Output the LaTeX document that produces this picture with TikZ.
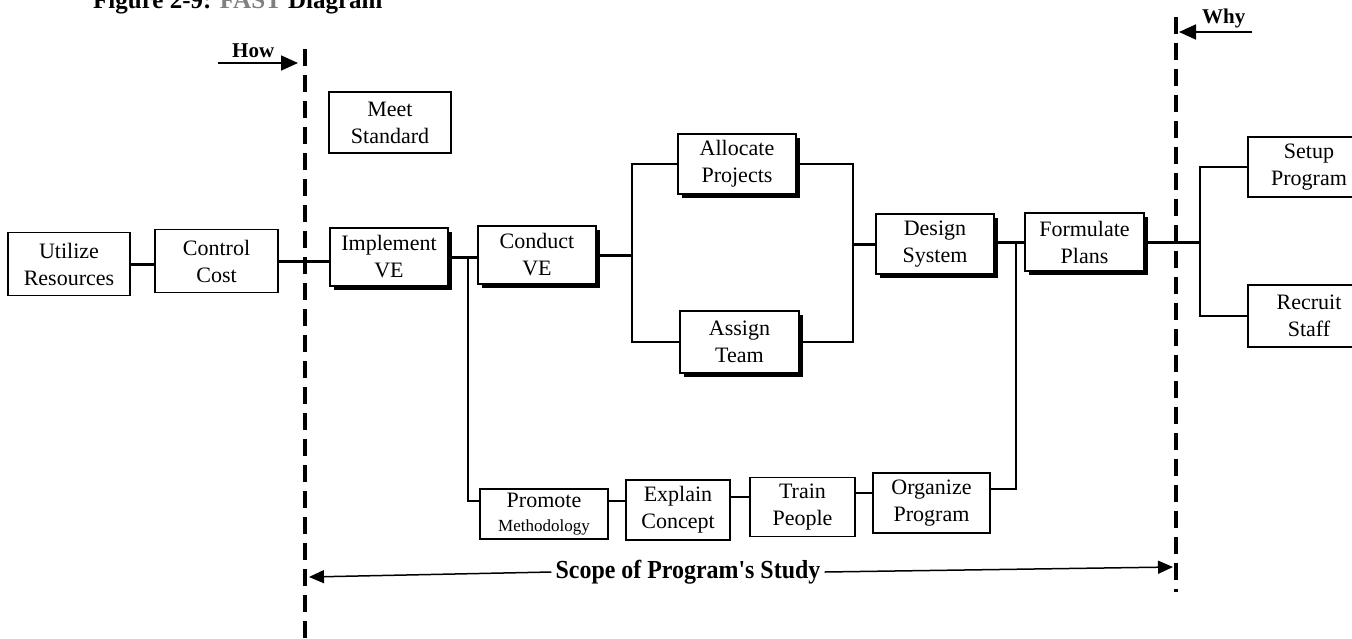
\documentclass[tikz,border=0pt]{standalone}
\usepackage{fontspec}
\setmainfont{Liberation Serif}
\newfontfamily\condfont[FakeStretch=0.92]{Liberation Serif}
\usetikzlibrary{arrows.meta,shadows}
\begin{document}
\begin{tikzpicture}[x=1pt,y=-1pt,
  lbl/.style={font=\fontsize{22}{27}\selectfont},
  box/.style={draw, line width=1.4pt, fill=white, inner sep=0pt, align=center, lbl},
  sbox/.style={box, drop shadow={shadow xshift=4pt,shadow yshift=-4pt,fill=black,opacity=1}},
  spine/.style={line width=3pt},
  thin/.style={line width=1.6pt},
  dashline/.style={line width=4.5pt, dash pattern=on 17pt off 9pt},
  bigarrow/.style={line width=1.8pt, -{Triangle[length=17pt,width=15pt]}},
  smallarrow/.style={line width=1.5pt, -{Triangle[length=15pt,width=13pt]}},
  hdr/.style={anchor=base west, inner sep=0pt, font=\bfseries\fontsize{21}{24}\selectfont},
]
\useasboundingbox (0,0) rectangle (1352,638);
\clip (0,0) rectangle (1352,638);

% title (cut off at the top)
\node[anchor=base west, inner sep=0pt, font=\bfseries\fontsize{25}{28}\selectfont] (title) at (93,8) {Figure 2-9: \textcolor{gray}{FAST} Diagram};

% boxes
\node[box, minimum width=122pt, minimum height=63pt] (util) at (69,264) {Utilize\\Resources};
\node[box, minimum width=123pt, minimum height=63pt] (ctrl) at (216.5,261) {Control\\Cost};
\node[sbox, minimum width=118pt, minimum height=58pt] (impl) at (389,257) {Implement\\VE};
\node[box, minimum width=122pt, minimum height=61pt] (meet) at (390,122.5) {Meet\\Standard};
\node[sbox, minimum width=118pt, minimum height=58pt] (cond) at (537,255) {Conduct\\VE};
\node[sbox, minimum width=118pt, minimum height=60pt] (alloc) at (737,164) {Allocate\\Projects};
\node[sbox, minimum width=119pt, minimum height=62pt] (assign) at (739.5,342) {Assign\\Team};
\node[sbox, minimum width=118pt, minimum height=60pt] (design) at (935,244) {Design\\System};
\node[sbox, minimum width=119pt, minimum height=58pt] (form) at (1084.5,242) {Formulate\\Plans};
\node[box, minimum width=122pt, minimum height=60pt] (setup) at (1309,167) {Setup\\Program};
\node[box, minimum width=122pt, minimum height=62pt] (recruit) at (1309,316) {Recruit\\Staff};

\node[box, minimum width=128pt, minimum height=50pt] (promote) at (544,514) {Promote\\[-3pt]{\fontsize{17}{20}\selectfont Methodology}};
\node[box, minimum width=104pt, minimum height=60pt] (explain) at (678,510) {Explain\\Concept};
\node[box, minimum width=105pt, minimum height=59pt] (train) at (802.5,507) {Train\\People};
\node[box, minimum width=117pt, minimum height=60pt] (organize) at (931.5,503) {Organize\\Program};

% junction coordinates
\coordinate (j1) at (468,257);
\coordinate (b1) at (632,255);
\coordinate (b2) at (853,244);
\coordinate (j2) at (1016,242);
\coordinate (b3) at (1200,242);
\coordinate (r1) at (0,501);
\coordinate (r2) at (0,497);
\coordinate (r3) at (0,493);
\coordinate (r4) at (0,489);

% spine connectors
\draw[spine] (util.east) -- (util.east -| ctrl.west);
\draw[spine] (ctrl.east) -- (ctrl.east -| impl.west);
\draw[spine] (impl.east |- j1) -- (j1) -- (j1 -| cond.west);
\draw[spine] (cond.east |- b1) -- (b1);
\draw[spine] (b2) -- (b2 -| design.west);
\draw[spine] (design.east |- j2) -- (j2) -- (j2 -| form.west);
\draw[spine] (form.east |- b3) -- (b3);

% branch connectors
\draw[thin] (alloc.west) -| (b1) |- (assign.west);
\draw[thin] (alloc.east) -| (b2) |- (assign.east);
\draw[thin] (setup.west) -| (b3) |- (recruit.west);
\draw[thin] (j1) |- (promote.west |- r1);
\draw[thin] (j2) |- (organize.east |- r4);
\draw[thin, line width=2pt] (promote.east |- r1) -- (explain.west |- r1);
\draw[thin, line width=2pt] (explain.east |- r2) -- (train.west |- r2);
\draw[thin, line width=2pt] (train.east |- r3) -- (organize.west |- r3);

% scope boundaries
\coordinate (dL1) at (305,49);
\coordinate (dL2) at (305,645);
\coordinate (dR1) at (1176,17);
\coordinate (dR2) at (1176,592);
\draw[dashline] (dL1) -- (dL2);
\draw[dashline] (dR1) -- (dR2);

% How / Why
\node[hdr] (how) at (232,57) {How};
\coordinate (howS) at (218,63);
\coordinate (howE) at (298,63);
\draw[bigarrow] (howS) -- (howE);
\node[hdr] (why) at (1202,23) {Why};
\coordinate (whyS) at (1252,32);
\coordinate (whyE) at (1179,32);
\draw[bigarrow] (whyS) -- (whyE);

% scope
\node[inner sep=4pt, font=\condfont\bfseries\fontsize{26}{28}\selectfont] (scope) at (688,572) {Scope of Program's Study};
\coordinate (sL) at (309,577);
\coordinate (sR) at (1173,567);
\draw[smallarrow] (scope.west) -- (sL);
\draw[smallarrow] (scope.east) -- (sR);
\end{tikzpicture}
\end{document}
